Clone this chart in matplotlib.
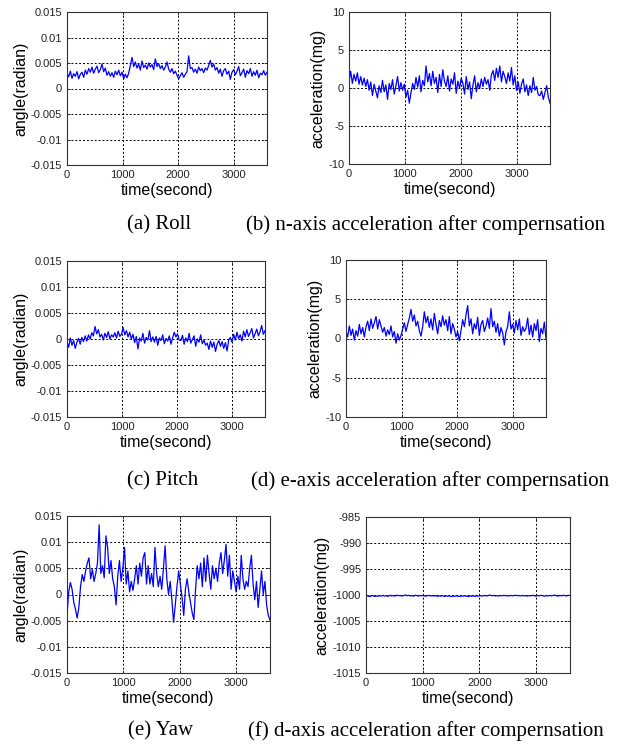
import numpy as np
import matplotlib
matplotlib.use("Agg")
import matplotlib.pyplot as plt

# ---------------- data ----------------
t_end = 3600
roll_mrad = [3.0, 2.3, 3.4, 2.0, 2.9, 2.4, 3.3, 1.9, 2.8, 3.2, 2.2,
             3.6, 2.8, 3.9, 3.2, 4.2, 3.0, 3.8, 4.4, 3.1, 3.7, 4.8, 3.3, 4.0,
             2.6, 3.3, 2.4, 3.1, 2.2, 3.4, 2.7, 3.6, 2.5,
             3.2, 1.9, 2.8, 2.1, 3.0,
             4.5, 6.1, 4.3, 5.2,
             4.0, 4.8, 3.6, 5.4, 4.1, 4.6, 3.8, 5.0, 4.2, 4.7, 3.7, 5.8, 4.3, 4.9, 3.9, 4.5, 3.6, 4.2,
             5.2, 3.8, 3.2, 3.9, 2.9, 3.4, 2.6, 1.9,
             2.5, 3.1, 2.2, 2.8, 3.3,
             6.4, 3.9,
             4.1, 3.2, 3.8, 3.0, 4.2, 3.5, 3.9, 3.1, 4.0, 3.6,
             4.5, 5.5, 4.2, 4.8,
             3.6, 4.1, 3.0, 3.8, 2.4, 3.5, 3.9, 2.8, 3.4, 1.8, 3.2,
             3.7, 2.7, 3.4, 4.3, 2.5, 3.1, 3.8, 2.2, 3.5, 2.9, 3.9, 2.4, 3.3, 2.6, 3.6, 2.1, 3.0, 2.7, 3.5, 2.6, 3.2]

n_acc = [0.8, 2.2, 0.6, 1.8, 0.9, 2.0, 0.5, 1.5,
         0.4, 1.3, 0.2, 1.1,
         -0.3, 0.8, -1.0, 0.5, -0.4, -1.3, 0.3, -0.6,
         1.0, -0.5, 0.4, -1.5, 0.6, -0.2, 1.1, -0.8,
         0.3, 1.5, -0.4, 0.7, -0.3, 0.5,
         -1.2, -0.3, -2.0, -0.6,
         0.6, -0.2, 1.4, 0.1, 1.6, -0.5, 1.0, 0.3,
         2.9, 0.8,
         1.9, 0.3, 2.2, 0.6, 1.4, -0.6, 1.8, 0.2, 2.4, 0.9,
         0.2, 1.6, -0.4, 1.2, 0.5, 2.0, -0.7, 0.9, 0.0, 1.3,
         0.6, -0.8, 1.5, -0.2, 0.8, -1.4, 0.4, 1.6, -0.5, 0.7, -0.1, 1.2,
         0.2, 1.4, 0.5, 1.1, -0.3, 1.7,
         2.3, 1.0, 2.6, 1.4, 2.9, 0.8, 2.2, 1.5,
         0.6, 2.0, 0.9, 2.7, 0.4, 1.6,
         -0.3, 0.8, -0.7, 0.5, 1.2, -0.5, 0.4, -1.0,
         0.3, -0.6, 1.4, -0.3, 0.2, -0.9,
         -1.0, -0.4, -1.5, -0.6,
         0.3, -1.2, -2.0]

pitch_mrad = [-0.5, -1.6, 0.2, -1.2, -0.3, -1.8, -0.6, 0.1, -1.0,
              0.3, -0.5, 0.6, -0.4, 0.8, 0.0,
              1.2, 0.6, 2.4, 1.0, 1.8, 0.4,
              0.9, -0.2, 1.1, 0.3, 1.4, 0.0, 0.8, 0.4,
              1.2, 0.2, 1.5, 0.5, 0.9,
              2.2, 0.8, 1.6, 0.4, 1.3,
              0.0, 0.9, -0.7, 0.5, -1.9, 0.2, -0.4, 1.1, -0.8, 0.3, -0.2, 1.6, -0.5, 0.4,
              -0.6, 0.5, -1.2, 0.2, -0.3, 0.8, -0.9, 0.1, -0.4, 0.6, -1.0, 0.2,
              1.3, 0.4, 1.0, -0.2,
              -0.3, 0.7, -1.0, 0.2, -0.5, 1.1, -0.8, -0.1, 0.6, -1.4, 0.0, -0.6, 0.8, -0.9, -0.2, -1.2,
              -0.8, -2.0, -0.4, -1.6, -0.6, -2.4, -1.0, -0.3,
              -1.4, -0.5, -1.8, -0.7, -2.3, -0.2,
              0.3, -0.6, 0.9, -0.2, 1.3, 0.1, 0.8, -0.4, 1.5, 0.4,
              1.8, 0.5, 1.2, 2.0, 0.2, 1.0, 1.9, 0.6, 1.4, 2.6, 0.9, 1.6]

e_acc = [0.9, 0.2, 1.6, 0.4, 1.2, -0.2, 1.0, 0.3, 1.8, 0.6, 1.4, 0.2,
         1.5, 2.2, 1.0, 2.5, 1.3, 2.0, 2.8, 1.2, 2.4, 1.6,
         0.8, 1.4, 0.3, 1.1, 0.5, 1.6,
         0.2, 0.9, -0.6, 0.6, -0.2, 0.4,
         1.2, 2.0, 0.9, 1.8,
         2.6, 3.7, 2.2, 3.0,
         1.6, 2.2, 1.0, 0.3, 1.5,
         3.4, 2.0, 2.8,
         1.4, 2.5, 1.1, 3.2, 1.8, 0.6, 2.3, 1.5, 2.9, 1.7,
         2.4, 1.0, 2.8, 0.6, 1.9, 1.2,
         0.2, 0.9, -0.3,
         1.0, 2.4, 1.5, 3.0,
         4.2, 1.6, 2.5, 0.6, 1.9, 1.2, 2.7, 0.4, 1.8, 2.3, 0.9,
         1.6, 2.6, 1.3, 3.8,
         1.5, 2.2, 0.8, 1.9, 0.3, 1.4, 0.7, -0.8,
         0.9, 1.5, 3.4, 1.2,
         1.8, 0.7, 2.3, 1.1, 2.5, 0.4, 1.5, 0.9,
         1.3, 2.6, 0.5, 1.7, 0.2, 1.9, 1.0, 2.4, -0.4, 1.3, 0.6, 2.1, 0.0]

yaw_mrad = [-4.0, 0.5, 2.3, 1.0, -1.5, -2.8, -4.5, -2.5, 1.5, 3.8,
            2.5, 4.5, 6.0, 7.0, 3.0, 4.8, 2.5, 4.0, 6.0, 13.3,
            4.0, 5.5, 3.2, 11.2, 9.0, 4.0, 6.5, 3.0, 1.5, -2.0,
            3.5, 6.5, 2.5, 5.0, 9.0, 2.0, 4.5, 0.5, 2.5, 0.8,
            3.0, 5.5, 2.0, 6.0, 3.5, 7.0, 8.0, 2.0, 5.5, 2.0,
            4.0, 1.5, 9.0, 4.0, 1.5, 3.5, 1.0, 5.0, 9.3, 3.0,
            0.0, 2.5, -1.0, -5.3, -2.0, 1.5, 4.5, 2.0, -0.5, -4.0,
            1.0, 3.0, 0.5, -1.5, -3.5, -4.8, 1.0, 5.5, 3.0, 6.0,
            1.5, 7.0, 2.5, 7.5, 4.0, 1.0, 5.5, 3.0, 5.0, 2.5,
            6.0, 8.0, 4.0, 6.5, 9.6, 3.5, 7.5, 1.0, 4.5, 2.5,
            0.5, 3.5, 1.0, 7.5, 3.0, 1.0, 2.5, 1.5, 5.0, 7.5,
            2.0, -1.0, 2.5, -2.5, 1.0, 4.5, 0.0, 2.5, -2.0, -4.0, -4.9]

d_acc = [-1000.25, -1000.15, -1000.30, -1000.20, -1000.10, -1000.28, -1000.18, -1000.24, -1000.12, -1000.22,
         -1000.08, -1000.20, -1000.14, -1000.26, -1000.05, -1000.18, -1000.10, -1000.22, -1000.02, -1000.15,
         -1000.08, -1000.20, -1000.12, -1000.00, -1000.14, -1000.06, -1000.18, -1000.10, -1000.22, -1000.04,
         -1000.12, -1000.20, -1000.08, -1000.16, -1000.10, -1000.22, -1000.14, -1000.06, -1000.18, -1000.12,
         -1000.20, -1000.10, -1000.26, -1000.16, -1000.22, -1000.12, -1000.28, -1000.18, -1000.24, -1000.14,
         -1000.30, -1000.20, -1000.26, -1000.16, -1000.22, -1000.28, -1000.18, -1000.24, -1000.14, -1000.22,
         -1000.30, -1000.20, -1000.24, -1000.16, -1000.26, -1000.18, -1000.22, -1000.12, -1000.20, -1000.16,
         -1000.08, -1000.18, -1000.10, -1000.02, -1000.14, -1000.08, -1000.18, -1000.12, -1000.20, -1000.10,
         -1000.16, -1000.06, -1000.14, -1000.10, -1000.20, -1000.08, -1000.16, -1000.12, -1000.04, -1000.14,
         -1000.10, -1000.18, -1000.08, -1000.16, -1000.12, -1000.20, -1000.10, -1000.16, -1000.06, -1000.14,
         -1000.20, -1000.10, -1000.16, -1000.06, -1000.14, -1000.22, -1000.12, -1000.18, -1000.08, -1000.16,
         -1000.10, -1000.02, -1000.14, -1000.20, -1000.08, -1000.16, -1000.04, -1000.12, -1000.18, -1000.06, -1000.10]

x_ticks = [0, 1000, 2000, 3000]
angle_ticks = [-0.015, -0.01, -0.005, 0, 0.005, 0.01, 0.015]
angle_tick_labels = ["-0.015", "-0.01", "-0.005", "0", "0.005", "0.01", "0.015"]
acc_ticks = [-10, -5, 0, 5, 10]
acc_tick_labels = ["-10", "-5", "0", "5", "10"]
d_ticks = [-1015, -1010, -1005, -1000, -995, -990, -985]
d_tick_labels = ["-1015", "-1010", "-1005", "-1000", "-995", "-990", "-985"]

captions = ["(a) Roll", "(b) n-axis acceleration after compernsation",
            "(c) Pitch", "(d) e-axis acceleration after compernsation",
            "(e) Yaw", "(f) d-axis acceleration after compernsation"]

# ---------------- drawing ----------------
W, H = 630, 745
fig = plt.figure(figsize=(W / 100, H / 100), dpi=100)
plt.rcParams['font.family'] = ['Liberation Sans', 'DejaVu Sans']


def box(l, r, t, b):
    return [l / W, 1 - b / H, (r - l) / W, (b - t) / H]


panels = [
    (box(67, 267, 12, 165), np.array(roll_mrad) / 1000.0, angle_ticks, angle_tick_labels, "angle(radian)"),
    (box(349, 550, 12, 164), np.array(n_acc), acc_ticks, acc_tick_labels, "acceleration(mg)"),
    (box(67, 265, 261, 417), np.array(pitch_mrad) / 1000.0, angle_ticks, angle_tick_labels, "angle(radian)"),
    (box(346, 546, 260, 417), np.array(e_acc), acc_ticks, acc_tick_labels, "acceleration(mg)"),
    (box(67, 270, 516, 673), np.array(yaw_mrad) / 1000.0, angle_ticks, angle_tick_labels, "angle(radian)"),
    (box(366, 570, 517, 673), np.array(d_acc), d_ticks, d_tick_labels, "acceleration(mg)"),
]

for rect, y, yt, ytl, ylab in panels:
    ax = fig.add_axes(rect)
    t = np.linspace(0, t_end, len(y))
    ax.plot(t, y, color='#0000ff', lw=0.9)
    ax.set_xlim(0, t_end)
    ax.set_ylim(yt[0], yt[-1])
    ax.set_xticks(x_ticks)
    ax.set_xticklabels([str(v) for v in x_ticks])
    ax.set_yticks(yt)
    ax.set_yticklabels(ytl)
    ax.grid(True, color='black', linestyle=(0, (2, 2)), linewidth=0.7)
    ax.tick_params(direction='in', length=2.5, width=0.6, labelsize=8, pad=3.5,
                   top=True, right=True, colors='#222222')
    for s in ax.spines.values():
        s.set_color('#333333')
        s.set_linewidth(0.8)
    ax.set_xlabel("time(second)", fontsize=11.5, labelpad=2)
    ax.set_ylabel(ylab, fontsize=11.5, labelpad=2)

cap_pos = [(127, 225), (246, 225), (127, 481), (251, 481), (128, 731), (248, 731)]
for (cx, cy), txt in zip(cap_pos, captions):
    fig.text(cx / W, 1 - cy / H, txt, ha='left', va='center', fontsize=15,
             family=['Liberation Serif', 'DejaVu Serif'])

fig.savefig("out.png", dpi=100)
